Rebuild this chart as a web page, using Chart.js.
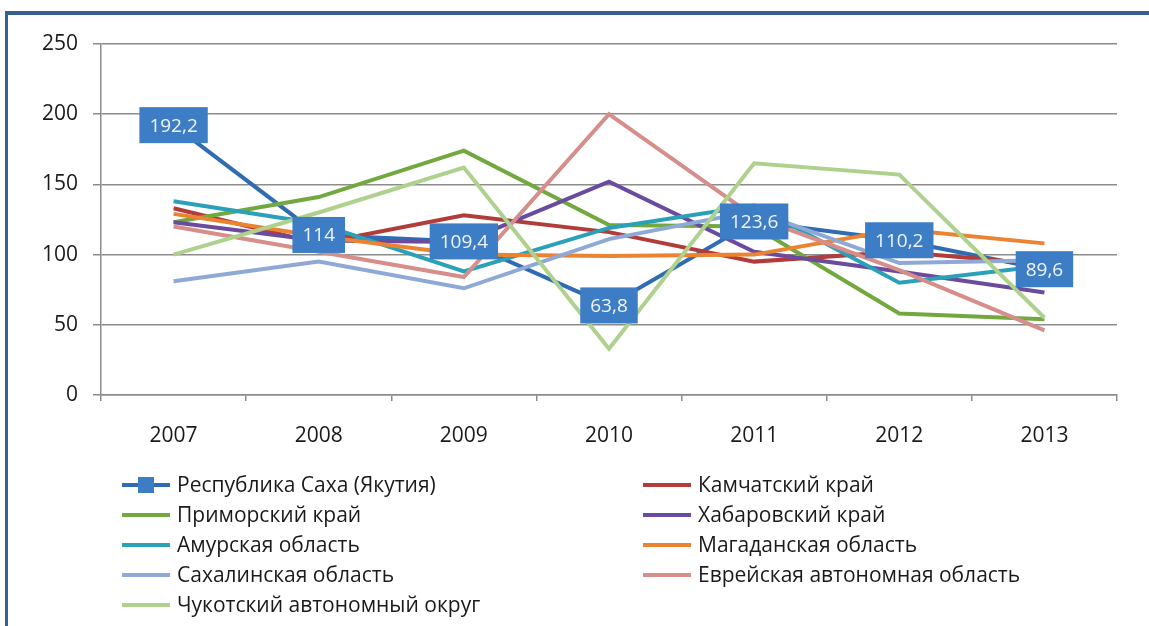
<!DOCTYPE html>
<html>
<head>
<meta charset="utf-8">
<script src="https://cdn.jsdelivr.net/npm/chart.js@4.4.0/dist/chart.umd.min.js"></script>
<style>
  html, body { margin: 0; padding: 0; background: #ffffff; }
  body { width: 1149px; height: 626px; position: relative; overflow: hidden; font-family: "Open Sans", sans-serif; }
  #frame { position: absolute; left: 5px; top: 11px; width: 1144px; height: 615px; border-top: 4px solid #35608f; border-left: 3px solid #35608f; box-sizing: border-box; }
  #c { position: absolute; left: 0; top: 0; }
  .lg { position: absolute; display: flex; align-items: center; font-size: 21px; color: #1a1a1a; white-space: nowrap; line-height: 1; }
  .lg .sw { position: relative; width: 48px; height: 4px; margin-right: 7px; }
  .lg .mk { position: absolute; left: 16px; top: -6px; width: 16px; height: 16px; }
</style>
</head>
<body>
<div id="frame"></div>
<canvas id="c" width="1149" height="626"></canvas>
<div id="legend"></div>
<script>
const years = ['2007', '2008', '2009', '2010', '2011', '2012', '2013'];
const seriesNames = [
  'Республика Саха (Якутия)', 'Камчатский край', 'Приморский край', 'Хабаровский край',
  'Амурская область', 'Магаданская область', 'Сахалинская область',
  'Еврейская автономная область', 'Чукотский автономный округ'
];
const sakha      = [192.2, 114, 109.4, 63.8, 123.6, 110.2, 89.6];
const kamchatka  = [133, 108, 128, 116, 95, 102, 93];
const primorye   = [123, 141, 174, 121, 120, 58, 54];
const khabarovsk = [123, 110, 109, 152, 102, 88, 73];
const amur       = [138, 122, 88, 119, 135, 80, 92];
const magadan    = [129, 113, 100, 99, 100, 118, 108];
const sakhalin   = [81, 95, 76, 111, 131, 94, 96];
const jewish     = [120, 102, 84, 200, 127, 89, 46];
const chukotka   = [100, 130, 162, 33, 165, 157, 55];
const yTicks     = [0, 50, 100, 150, 200, 250];

const seriesValues = [sakha, kamchatka, primorye, khabarovsk, amur, magadan, sakhalin, jewish, chukotka];
const colors = ['#2f6cb3', '#b13c39', '#72a83e', '#6b4b9e', '#2aa1b8', '#ec8330', '#8ea9d5', '#d68e8b', '#aed28e'];

const datasets = seriesValues.map((vals, i) => ({
  label: seriesNames[i],
  data: vals,
  borderColor: colors[i],
  backgroundColor: colors[i],
  borderWidth: 4,
  pointRadius: 0,
  tension: 0,
  fill: false,
  order: -i
}));

const boxLabels = {
  id: 'boxLabels',
  afterDatasetsDraw(chart) {
    const meta = chart.getDatasetMeta(0);
    const ctx = chart.ctx;
    ctx.save();
    ctx.font = '19px "Open Sans"';
    ctx.textAlign = 'center';
    ctx.textBaseline = 'middle';
    meta.data.forEach((pt, i) => {
      const txt = String(sakha[i]).replace('.', ',');
      const w = ctx.measureText(txt).width + 20;
      const h = 36;
      ctx.fillStyle = '#3c7dc6';
      ctx.fillRect(pt.x - w / 2, pt.y - h / 2, w, h);
      ctx.fillStyle = '#f0f5fb';
      ctx.fillText(txt, pt.x, pt.y + 1);
    });
    ctx.restore();
  }
};

const gridColor = '#8c8c8c';
const tickFont = { family: 'Open Sans', size: 21 };

new Chart(document.getElementById('c'), {
  type: 'line',
  data: { labels: years, datasets },
  options: {
    responsive: false,
    animation: false,
    layout: { padding: { left: 0, right: 32, top: 44, bottom: 181 } },
    plugins: { legend: { display: false }, tooltip: { enabled: false } },
    scales: {
      x: {
        offset: true,
        grid: { offset: true, drawOnChartArea: false, drawTicks: true, tickLength: 6, color: gridColor, lineWidth: 1.5 },
        border: { color: gridColor, width: 1.5 },
        ticks: { font: tickFont, color: '#1a1a1a', padding: 22 },
        afterFit: s => { s.height = 50; }
      },
      y: {
        min: 0, max: 250,
        afterBuildTicks: s => { s.ticks = yTicks.map(v => ({ value: v })); },
        grid: { tickLength: 8, color: gridColor, lineWidth: 1.5 },
        border: { color: gridColor, width: 1.5 },
        ticks: { font: tickFont, color: '#1a1a1a', padding: 15 },
        afterFit: s => { s.width = 101; }
      }
    }
  },
  plugins: [boxLabels]
});

// legend (two columns, row-wise order as in the reference)
const legend = document.getElementById('legend');
seriesNames.forEach((name, i) => {
  const col = i % 2, row = Math.floor(i / 2);
  const item = document.createElement('div');
  item.className = 'lg';
  item.style.left = (col === 0 ? 122 : 643) + 'px';
  item.style.top = (485 + row * 30 - 11) + 'px';
  const sw = document.createElement('div');
  sw.className = 'sw';
  sw.style.background = colors[i];
  if (i === 0) {
    const mk = document.createElement('div');
    mk.className = 'mk';
    mk.style.background = '#3c7dc6';
    sw.appendChild(mk);
  }
  const tx = document.createElement('span');
  tx.textContent = name;
  item.appendChild(sw);
  item.appendChild(tx);
  legend.appendChild(item);
});
</script>
</body>
</html>
